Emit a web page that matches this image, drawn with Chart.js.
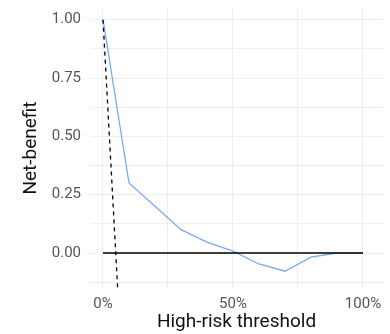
<!DOCTYPE html>
<html>
<head>
<meta charset="utf-8">
<script src="https://cdn.jsdelivr.net/npm/chart.js@4/dist/chart.umd.min.js"></script>
<style>
  html, body { margin: 0; padding: 0; background: #fff; }
  #wrap { width: 390px; height: 334px; position: relative; }
</style>
</head>
<body>
<div id="wrap"><canvas id="grafico"></canvas></div>
<script>
// limiares de risco e benefício líquido do modelo
const thresholds = [0, 0.1, 0.2, 0.3, 0.4, 0.5, 0.6, 0.7, 0.8, 0.9, 1.0];
const modelNB = [1.0, 0.30, 0.20, 0.10, 0.047, 0.008, -0.047, -0.078, -0.018, 0.0, 0.0];

// tratar todos (tracejado) e tratar nenhum (linha em zero)
const allX = [0, 0.049, 0.06];
const allNB = [1.0, 0.0, -0.225];
const noneX = [0, 1];
const noneNB = [0, 0];

const xTicks = [0, 0.25, 0.5, 0.75, 1.0];
const xLabels = ['0%', '', '50%', '', '100%'];
const yTicks = [-0.125, 0, 0.125, 0.25, 0.375, 0.5, 0.625, 0.75, 0.875, 1.0];
const yLabels = ['', '0.00', '', '0.25', '', '0.50', '', '0.75', '', '1.00'];

const pts = (xs, ys) => xs.map((x, i) => ({ x: x, y: ys[i] }));

const ctx = document.getElementById('grafico').getContext('2d');
Chart.defaults.font.family = 'Roboto, sans-serif';

new Chart(ctx, {
  type: 'scatter',
  data: {
    datasets: [
      {
        label: 'Treat all',
        data: pts(allX, allNB),
        showLine: true,
        borderColor: '#000',
        borderWidth: 1.3,
        borderDash: [4, 4],
        pointRadius: 0
      },
      {
        label: 'Treat none',
        data: pts(noneX, noneNB),
        showLine: true,
        borderColor: '#000',
        borderWidth: 1.3,
        pointRadius: 0
      },
      {
        label: 'Model',
        data: pts(thresholds, modelNB),
        showLine: true,
        borderColor: '#7aaaf5',
        borderWidth: 1.3,
        pointRadius: 0
      }
    ]
  },
  options: {
    responsive: true,
    maintainAspectRatio: false,
    animation: false,
    layout: { padding: { top: 8, right: 7, left: 20, bottom: 0 } },
    plugins: { legend: { display: false }, tooltip: { enabled: false } },
    scales: {
      x: {
        type: 'linear',
        min: -0.05,
        max: 1.077,
        afterBuildTicks: s => { s.ticks = xTicks.map(v => ({ value: v })); },
        afterFit: s => { s.height = 46; s.paddingLeft = 0; s.paddingRight = 0; },
        border: { display: false },
        grid: { color: '#eeeeee', lineWidth: 1, drawTicks: false },
        ticks: {
          padding: 7,
          color: '#555',
          font: { size: 15 },
          maxRotation: 0,
          callback: (v, i) => xLabels[i]
        },
        title: {
          display: true,
          text: 'High-risk threshold',
          color: '#111',
          font: { size: 19 },
          padding: { top: 3, bottom: 0 }
        }
      },
      y: {
        type: 'linear',
        min: -0.15,
        max: 1.05,
        afterBuildTicks: s => { s.ticks = yTicks.map(v => ({ value: v })); },
        afterFit: s => { s.width = 70; s.paddingTop = 0; s.paddingBottom = 0; },
        border: { display: false },
        grid: { color: '#eeeeee', lineWidth: 1, drawTicks: false },
        ticks: {
          padding: 9,
          color: '#555',
          font: { size: 15 },
          callback: (v, i) => yLabels[i]
        },
        title: {
          display: true,
          text: 'Net-benefit',
          color: '#111',
          font: { size: 19 },
          padding: { top: 0, bottom: 3 }
        }
      }
    }
  }
});
</script>
</body>
</html>
